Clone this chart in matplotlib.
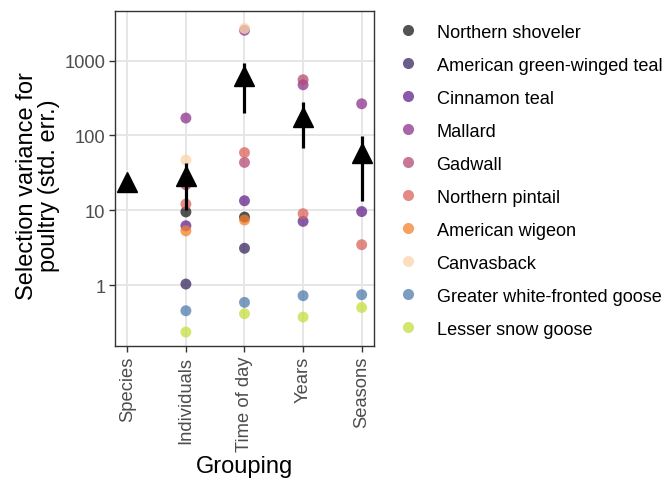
import matplotlib
matplotlib.use("Agg")
import matplotlib.pyplot as plt
from matplotlib.lines import Line2D
import numpy as np

plt.rcParams['font.family'] = ['Liberation Sans', 'DejaVu Sans']

groups = ["Species", "Individuals", "Time of day", "Years", "Seasons"]

species = ["Northern shoveler", "American green-winged teal", "Cinnamon teal",
           "Mallard", "Gadwall", "Northern pintail", "American wigeon",
           "Canvasback", "Greater white-fronted goose", "Lesser snow goose"]
colors = ["#1a1a1a", "#382860", "#63238b", "#8b338b", "#b54b75",
          "#dc635b", "#f5802b", "#fcd5ab", "#517cab", "#c5e040"]

# per-species values by grouping (None = not estimated)
shoveler = [None, 9.5, 8.1, None, None]
gw_teal = [None, 1.03, 3.1, None, None]
cinnamon = [None, 6.2, 13.4, 7.1, 9.6]
mallard = [None, 171, 2550, 476, 265]
gadwall = [None, 21.9, 43.6, 556, None]
pintail = [None, 12.1, 59, 9.0, 3.46]
wigeon = [None, 5.3, 7.4, None, None]
canvasback = [None, 47, 2700, None, None]
gwf_goose = [None, 0.453, 0.586, 0.72, 0.742]
snow_goose = [None, 0.235, 0.413, 0.373, 0.50]
species_vals = [shoveler, gw_teal, cinnamon, mallard, gadwall,
                pintail, wigeon, canvasback, gwf_goose, snow_goose]

# overall estimate with error bar
overall = [24, 28.5, 615, 179, 58]
err_lo = [None, 10.2, 199, 67.8, 13.1]
err_hi = [None, 42.8, 929, 276, 97]

fig = plt.figure(figsize=(6.67, 4.81), dpi=100)
ax = fig.add_axes([0.1724, 0.2786, 0.3883, 0.6965])

x = np.arange(len(groups))
for name, col, vals in zip(species, colors, species_vals):
    xs = [xi for xi, v in zip(x, vals) if v is not None]
    ys = [v for v in vals if v is not None]
    ax.scatter(xs, ys, s=62, color=col, alpha=0.75, edgecolors='none', zorder=3)

for xi, lo, hi in zip(x, err_lo, err_hi):
    if lo is not None:
        ax.plot([xi, xi], [lo, hi], color='black', lw=2.3, zorder=4, solid_capstyle='butt')
ax.plot(x, overall, linestyle='none', marker='^', markersize=15, color='black', zorder=5)

ax.set_yscale('log')
ax.set_ylim(0.153, 4620)
ax.set_xlim(-0.21, 4.21)
ax.set_yticks([1, 10, 100, 1000])
ax.set_yticklabels(["1", "10", "100", "1000"])
ax.minorticks_off()
ax.set_xticks(x)
ax.set_xticklabels(groups, rotation=90)

ax.grid(True, color='#e6e6e6', lw=1.4, zorder=0)
ax.set_axisbelow(True)
for sp in ax.spines.values():
    sp.set_color('#333333')
    sp.set_linewidth(1.0)
ax.tick_params(axis='both', colors='#333333', labelcolor='#4d4d4d', labelsize=13.2,
               length=4, width=1.0, pad=3)

ax.set_ylabel("Selection variance for\npoultry (std. err.)", fontsize=17, linespacing=1.0)
ax.yaxis.set_label_coords(-0.212, 0.48)
ax.set_xlabel("Grouping", fontsize=17, labelpad=3)

handles = [Line2D([], [], linestyle='none', marker='o', markersize=8,
                  markerfacecolor=c, markeredgecolor='none', alpha=0.75) for c in colors]
fig.legend(handles, species, loc='upper left', bbox_to_anchor=(0.585, 0.964),
           frameon=False, fontsize=13.1, labelspacing=0.88, handletextpad=0.95,
           handlelength=1.2, borderaxespad=0)

fig.savefig("out.png", dpi=100)
